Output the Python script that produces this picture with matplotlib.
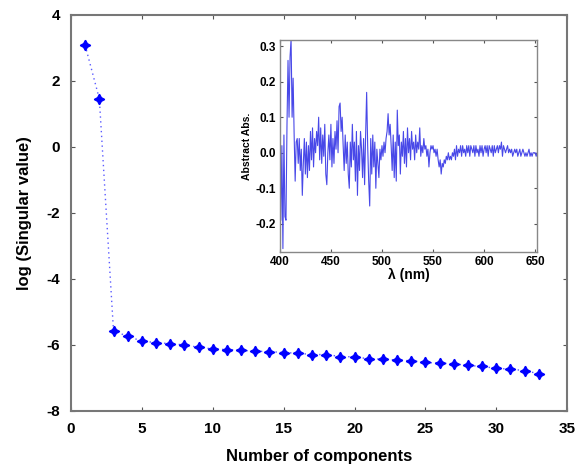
import numpy as np
import matplotlib
matplotlib.use('Agg')
import matplotlib.pyplot as plt

plt.rcParams['font.family'] = ['Liberation Sans', 'DejaVu Sans']
plt.rcParams['font.weight'] = 'bold'
plt.rcParams['axes.unicode_minus'] = False

# 특이값 데이터 (성분 수 1~33)
components = list(range(1, 34))
log_sv = [3.08, 1.46, -5.57, -5.74, -5.88, -5.93, -5.96, -6.00, -6.07, -6.12,
          -6.14, -6.16, -6.19, -6.20, -6.23, -6.25, -6.29, -6.29, -6.35, -6.36,
          -6.42, -6.43, -6.46, -6.48, -6.53, -6.55, -6.57, -6.62, -6.65, -6.71,
          -6.73, -6.78, -6.87]

# inset: abstract spectrum (400~652 nm, 1 nm 간격)
wavelength = list(range(400, 653))
abstract_abs = [
    0.09, -0.19, 0.02, -0.27, 0.05, -0.18, -0.19, 0.08, 0.26, 0.10,
    0.27, 0.32, 0.10, 0.21, 0.05, -0.08, 0.03, 0.04, -0.03, 0.04,
    -0.05, 0.01, -0.12, -0.03, 0.04, -0.06, 0.03, -0.07, 0.02, -0.05,
    0.06, -0.02, 0.07, -0.04, 0.04, 0.00, 0.06, 0.02, 0.10, -0.02,
    0.07, -0.03, 0.05, -0.01, 0.08, -0.06, -0.09, 0.00, 0.05, -0.02,
    0.08, -0.04, 0.04, -0.03, 0.06, 0.01, 0.09, 0.00, 0.13, 0.14,
    0.06, 0.10, 0.02, -0.05, 0.05, -0.03, 0.03, -0.06, -0.10, 0.03,
    -0.04, 0.08, -0.02, 0.03, -0.08, 0.06, -0.12, 0.02, -0.05, 0.06,
    0.01, -0.07, 0.04, -0.09, 0.05, 0.17, 0.02, -0.08, -0.15, 0.04,
    -0.06, 0.05, -0.04, 0.03, -0.10, 0.01, -0.03, -0.07, 0.01, -0.02,
    0.02, -0.01, 0.03, 0.00, 0.04, 0.06, 0.11, 0.05, 0.08, 0.02,
    -0.05, 0.05, -0.07, 0.03, -0.08, 0.12, 0.02, 0.05, -0.06, 0.03,
    -0.01, 0.06, -0.03, 0.04, -0.04, 0.07, 0.00, 0.04, -0.02, 0.06,
    0.01, 0.03, -0.02, 0.05, 0.00, 0.03, 0.01, 0.07, -0.01, 0.02,
    0.00, 0.04, 0.01, 0.02, -0.01, 0.01, -0.04, 0.00, 0.02, 0.01,
    0.02, 0.00, 0.01, -0.01, 0.01, -0.02, -0.04, -0.02, -0.06, -0.03,
    -0.04, -0.02, -0.03, -0.01, -0.02, 0.00, -0.02, -0.01, -0.02, 0.00,
    -0.01, 0.01, -0.02, 0.02, -0.01, 0.01, 0.00, 0.02, -0.01, 0.02,
    0.00, 0.01, -0.01, 0.02, 0.00, 0.02, -0.01, 0.02, 0.01, 0.00,
    0.02, -0.01, 0.02, 0.00, 0.01, -0.01, 0.02, 0.00, 0.02, -0.01,
    0.01, 0.02, 0.00, 0.02, -0.01, 0.02, 0.01, 0.00, 0.02, -0.01,
    0.02, 0.00, 0.01, 0.02, 0.00, 0.02, 0.01, 0.03, -0.01, 0.02,
    0.01, 0.00, 0.01, 0.02, 0.00, 0.01, 0.00, 0.01, -0.01, 0.00,
    0.01, 0.00, 0.01, -0.01, 0.00, 0.01, -0.01, 0.00, 0.01, 0.00,
    -0.01, 0.00, -0.01, 0.00, 0.01, -0.01, 0.00, -0.01, 0.00, 0.00,
    0.00, -0.01, 0.00]

fig = plt.figure(figsize=(5.77, 4.67), dpi=100)
ax = fig.add_axes([0.123, 0.12, 0.860, 0.848])

ax.plot(components, log_sv, linestyle=(0, (1, 2.5)), color='#5a5aff', linewidth=1.0,
        marker=(4, 1, 0), markersize=7.5, markerfacecolor='#0000ff',
        markeredgecolor='#0000ff')

ax.set_xlim(0, 35)
ax.set_ylim(-8, 4)
ax.set_xticks(range(0, 36, 5))
ax.set_yticks(range(-8, 5, 2))
ax.tick_params(direction='in', length=3, top=True, right=True,
               labelsize=11, color='#555555', pad=8)
for sp in ax.spines.values():
    sp.set_color('#777777')
    sp.set_linewidth(1.5)
ax.set_xlabel('Number of components', fontsize=12, fontweight='bold', labelpad=9)
ax.set_ylabel('log (Singular value)', fontsize=12, fontweight='bold', labelpad=10)

# inset
ins = fig.add_axes([0.485, 0.46, 0.446, 0.454])
ins.plot(wavelength, abstract_abs, color='#4848e8', linewidth=0.8)
ins.set_xlim(400, 652)
ins.set_ylim(-0.28, 0.317)
ins.set_xticks(range(400, 651, 50))
ins.set_yticks([-0.2, -0.1, 0.0, 0.1, 0.2, 0.3])
ins.set_yticklabels(['-0.2', '-0.1', '0.0', '0.1', '0.2', '0.3'])
ins.tick_params(direction='in', length=2, top=True, right=True,
                labelsize=8.5, color='#555555', pad=3)
for sp in ins.spines.values():
    sp.set_color('#888888')
    sp.set_linewidth(1.0)
ins.set_xlabel('λ (nm)', fontsize=10, fontweight='bold', labelpad=0)
ins.set_ylabel('Abstract Abs.', fontsize=7.5, fontweight='bold', labelpad=2)

plt.savefig('out.png', dpi=100)
